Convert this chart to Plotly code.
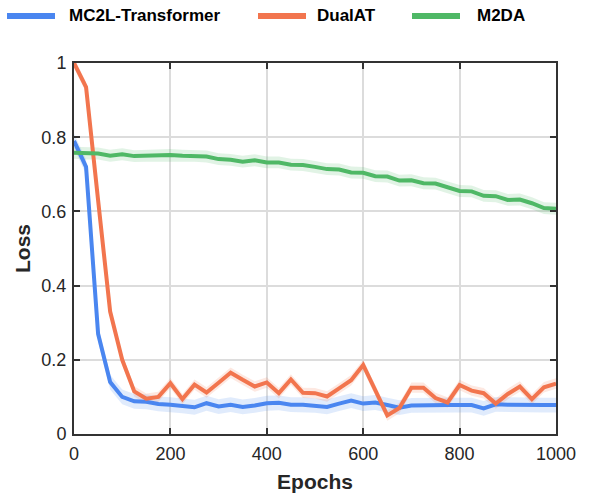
import plotly.graph_objects as go

epochs = list(range(0, 1001, 25))

mc2l = [0.79, 0.72, 0.27, 0.14, 0.10, 0.088, 0.087, 0.081, 0.079, 0.076,
        0.072, 0.083, 0.074, 0.079, 0.073, 0.077, 0.083, 0.084, 0.079, 0.079,
        0.077, 0.073, 0.082, 0.090, 0.082, 0.085, 0.078, 0.071, 0.077, 0.078,
        0.078, 0.078, 0.078, 0.078, 0.069, 0.080, 0.079, 0.078, 0.078, 0.078,
        0.078]

dualat = [1.0, 0.935, 0.63, 0.33, 0.20, 0.115, 0.095, 0.100, 0.137, 0.094,
          0.133, 0.112, 0.138, 0.165, 0.146, 0.128, 0.139, 0.110, 0.147, 0.111,
          0.110, 0.101, 0.123, 0.145, 0.186, 0.117, 0.050, 0.070, 0.125, 0.125,
          0.097, 0.085, 0.132, 0.117, 0.110, 0.082, 0.108, 0.128, 0.094, 0.126,
          0.136]

m2da = [0.758, 0.756, 0.756, 0.750, 0.754, 0.749, 0.750, 0.750, 0.752, 0.750,
        0.750, 0.748, 0.741, 0.739, 0.734, 0.738, 0.732, 0.732, 0.726, 0.725,
        0.720, 0.714, 0.713, 0.705, 0.704, 0.695, 0.694, 0.683, 0.684, 0.676,
        0.675, 0.666, 0.655, 0.654, 0.642, 0.641, 0.631, 0.632, 0.622, 0.609,
        0.607]

names = ["MC2L-Transformer", "DualAT", "M2DA"]
series = [mc2l, dualat, m2da]
colors = ["#4A86F0", "#F2754E", "#4FB866"]
bands = ["rgba(74,134,240,0.17)", "rgba(242,117,78,0.17)", "rgba(79,184,102,0.17)"]
halfw = [0.02, 0.014, 0.016]

FONT = "Liberation Sans, Arial, sans-serif"

fig = go.Figure()
for name, ys, col, bc, hw in zip(names, series, colors, bands, halfw):
    upper = [v + hw for v in ys]
    lower = [v - hw for v in ys]
    fig.add_trace(go.Scatter(
        x=epochs + epochs[::-1], y=upper + lower[::-1],
        fill="toself", fillcolor=bc, line=dict(width=0),
        hoverinfo="skip", showlegend=False, mode="lines"))
for name, ys, col in zip(names, series, colors):
    fig.add_trace(go.Scatter(
        x=epochs, y=ys, mode="lines", name=name,
        line=dict(color=col, width=4), showlegend=False))

# custom legend across the top
L, W = 74, 482
def px(x):
    return (x - L) / W
leg_y = (434 - 16) / 371
swatches = [(7, 55, 67), (258, 306, 315), (412, 460, 475)]
for (x0, x1, tx), name, col in zip(swatches, names, colors):
    fig.add_shape(type="line", xref="paper", yref="paper",
                  x0=px(x0), x1=px(x1), y0=leg_y, y1=leg_y,
                  line=dict(color=col, width=6))
    fig.add_annotation(xref="paper", yref="paper", x=px(tx), y=leg_y,
                       text="<b>%s</b>" % name, showarrow=False,
                       xanchor="left", yanchor="middle",
                       font=dict(family=FONT, size=17, color="#000000"))

axis_common = dict(
    showline=True, linecolor="#333333", linewidth=2, mirror="ticks",
    ticks="inside", ticklen=6, tickwidth=1.5, tickcolor="#333333",
    showgrid=True, gridcolor="#DCDCDC", gridwidth=1.5, zeroline=False,
    automargin=False,
    tickfont=dict(family=FONT, size=18, color="#262626"),
)

fig.update_layout(
    width=600, height=495,
    margin=dict(l=74, r=44, t=63, b=61),
    paper_bgcolor="white", plot_bgcolor="white",
    xaxis=dict(range=[0, 1000], dtick=200, tick0=0, ticklabelstandoff=2,
               title=dict(text="<b>Epochs</b>", standoff=12,
                          font=dict(family=FONT, size=21, color="#262626")),
               **axis_common),
    yaxis=dict(range=[0, 1], dtick=0.2, tick0=0, ticklabelstandoff=2,
               title=dict(text="<b>Loss</b>", standoff=5,
                          font=dict(family=FONT, size=21, color="#262626")),
               **axis_common),
    showlegend=False,
)

# remove the default 8px page margin so the figure fills the window exactly
fig.write_html("out.html",
               config={"displayModeBar": False},
               post_script="document.body.style.margin='0';")
